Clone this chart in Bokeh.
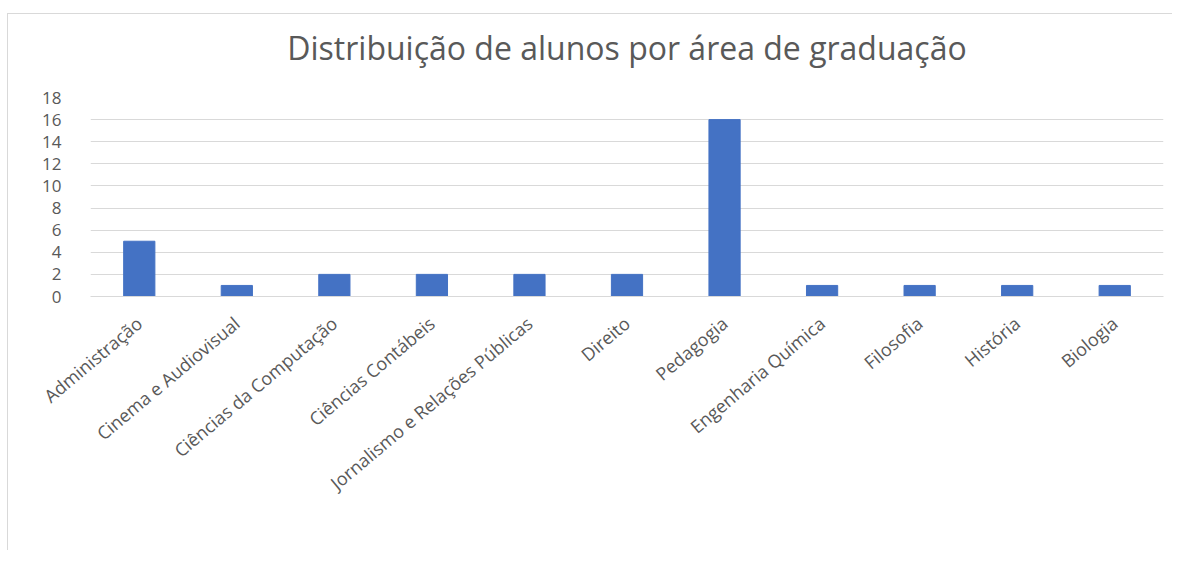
import math
from bokeh.plotting import figure
from bokeh.models import Legend, LegendItem, FixedTicker, Title
from bokeh.embed import file_html
from bokeh.resources import INLINE

categorias = ["Administração", "Cinema e Audiovisual", "Ciências da Computação",
              "Ciências Contábeis", "Jornalismo e Relações Públicas", "Direito",
              "Pedagogia", "Engenharia Química", "Filosofia", "História", "Biologia"]
total = [5, 1, 2, 2, 2, 2, 16, 1, 1, 1, 1]
y_ticks = [0, 2, 4, 6, 8, 10, 12, 14, 16, 18]

FONT = "Open Sans"
GREY = "#595959"

p = figure(x_range=categorias, y_range=(0, 18), frame_width=1073, frame_height=199,
           output_backend="svg", toolbar_location=None,
           min_border_left=82, min_border_right=9, min_border_top=83,
           min_border_bottom=254,
           title="Distribuição de alunos por área de graduação",
           styles={"border-top": "1px solid #d9d9d9", "border-left": "1px solid #d9d9d9",
                   "margin-top": "13px", "margin-left": "7px"})
p.title.align = "center"
p.title.text_font = FONT
p.title.text_font_size = "32px"
p.title.text_font_style = "normal"
p.title.text_color = GREY
p.title.standoff = 0

# spacing between the title and the plotting area
p.add_layout(Title(text=" ", text_font_size="1px", standoff=26), "above")

r = p.vbar(x=categorias, top=total, width=0.32, fill_color="#4472C4",
           line_color="#4472C4")

p.outline_line_color = None
p.xgrid.grid_line_color = None
p.ygrid.grid_line_color = "#d9d9d9"
p.ygrid.grid_line_width = 1
p.yaxis.ticker = FixedTicker(ticks=y_ticks)
p.yaxis.axis_line_color = None
p.yaxis.major_tick_line_color = None
p.yaxis.minor_tick_line_color = None
p.yaxis.major_label_text_font = FONT
p.yaxis.major_label_text_font_size = "17px"
p.yaxis.major_label_text_color = GREY
p.yaxis.major_label_standoff = 23

p.xaxis.axis_line_color = "#d9d9d9"
p.xaxis.major_tick_line_color = None
p.xaxis.minor_tick_line_color = None
p.xaxis.major_label_orientation = math.radians(40)
p.xaxis.major_label_text_font = FONT
p.xaxis.major_label_text_font_size = "18px"
p.xaxis.major_label_text_color = GREY
p.xaxis.major_label_standoff = 18

legend = Legend(items=[LegendItem(label="Total", renderers=[r])],
                orientation="horizontal", location=(476, -229),
                label_text_font=FONT, label_text_font_size="17px",
                label_text_color=GREY, border_line_color=None,
                background_fill_alpha=0,
                glyph_width=12, glyph_height=12, margin=0, padding=4,
                label_standoff=6)
p.add_layout(legend, "center")

open("out.html", "w").write(file_html(p, INLINE))
